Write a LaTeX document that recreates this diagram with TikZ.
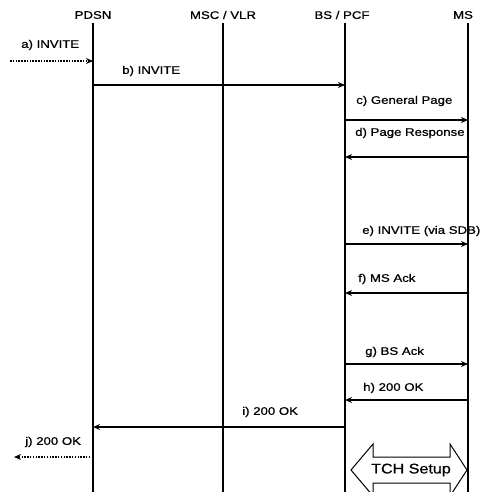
\documentclass[tikz,border=0pt]{standalone}
\usepackage{fontspec}
\setmainfont[FakeBold=0.7]{Liberation Sans}
\usetikzlibrary{arrows.meta}
\begin{document}
\begin{tikzpicture}[x=1pt,y=-1pt,
  hdr/.style={font=\fontsize{11}{13}\selectfont, xscale=1.2, inner sep=0pt},
  lbl/.style={font=\fontsize{11}{13}\selectfont, xscale=1.2, inner sep=0pt, anchor=west},
  life/.style={line width=2.6pt},
  msg/.style={line width=2.2pt, -{Stealth[length=7pt,width=6pt]}},
  ext/.style={line width=2.2pt, dash pattern=on 1.5pt off 1.3pt, -{Stealth[length=7pt,width=6pt]}},
  bigarrow/.style={draw=black, line width=1pt, fill=white}
]
\useasboundingbox (0,0) rectangle (485,492);
\clip (0,0) rectangle (485,492);

% headers
\node[hdr] (pdsn) at (93,15) {PDSN};
\node[hdr] (msc) at (223,15) {MSC / VLR};
\node[hdr] (bs) at (342,15) {BS / PCF};
\node[hdr] (ms) at (463,15) {MS};

% lifelines
\coordinate (pdT) at (93,23);  \coordinate (pdB) at (93,492);
\coordinate (mcT) at (223,23); \coordinate (mcB) at (223,492);
\coordinate (bsT) at (345,23); \coordinate (bsB) at (345,492);
\coordinate (msT) at (468,23); \coordinate (msB) at (468,492);
\draw[life] (pdT) -- (pdB);
\draw[life] (mcT) -- (mcB);
\draw[life] (bsT) -- (bsB);
\draw[life] (msT) -- (msB);

% a) external INVITE
\coordinate (aS) at (10,61); \coordinate (aE) at (93,61);
\draw[ext] (aS) -- (aE);
\node[lbl] (la) at (21,45) {a) INVITE};

% b)
\coordinate (bS) at (93,85); \coordinate (bE) at (345,85);
\draw[msg] (bS) -- (bE);
\node[lbl] (lb) at (122,71) {b) INVITE};

% c)
\coordinate (cS) at (345,120); \coordinate (cE) at (468,120);
\draw[msg] (cS) -- (cE);
\node[lbl] (lc) at (356,101) {c) General Page};

% d)
\coordinate (dS) at (468,157); \coordinate (dE) at (345,157);
\draw[msg] (dS) -- (dE);
\node[lbl] (ld) at (355,133) {d) Page Response};

% e)
\coordinate (eS) at (345,244); \coordinate (eE) at (468,244);
\draw[msg] (eS) -- (eE);
\node[lbl] (le) at (362,231) {e) INVITE (via SDB)};

% f)
\coordinate (fS) at (468,293); \coordinate (fE) at (345,293);
\draw[msg] (fS) -- (fE);
\node[lbl] (lf) at (358,279) {f) MS Ack};

% g)
\coordinate (gS) at (345,364); \coordinate (gE) at (468,364);
\draw[msg] (gS) -- (gE);
\node[lbl] (lg) at (365,352) {g) BS Ack};

% h)
\coordinate (hS) at (468,400); \coordinate (hE) at (345,400);
\draw[msg] (hS) -- (hE);
\node[lbl] (lh) at (363,388) {h) 200 OK};

% i)
\coordinate (iS) at (345,427); \coordinate (iE) at (93,427);
\draw[msg] (iS) -- (iE);
\node[lbl] (li) at (242,412) {i) 200 OK};

% j)
\coordinate (jS) at (93,457); \coordinate (jE) at (14,457);
\draw[ext] (jS) -- (jE);
\node[lbl] (lj) at (25,442) {j) 200 OK};

% TCH Setup double arrow
\draw[bigarrow] (351,470) -- (373,444) -- (373,457) -- (450,457) -- (450,444)
  -- (467,470) -- (450,496) -- (450,483) -- (373,483) -- (373,496) -- cycle;
\node[font=\fontsize{14}{16}\selectfont, xscale=1.15, inner sep=0pt] (tch) at (411,470) {TCH Setup};
\end{tikzpicture}
\end{document}
